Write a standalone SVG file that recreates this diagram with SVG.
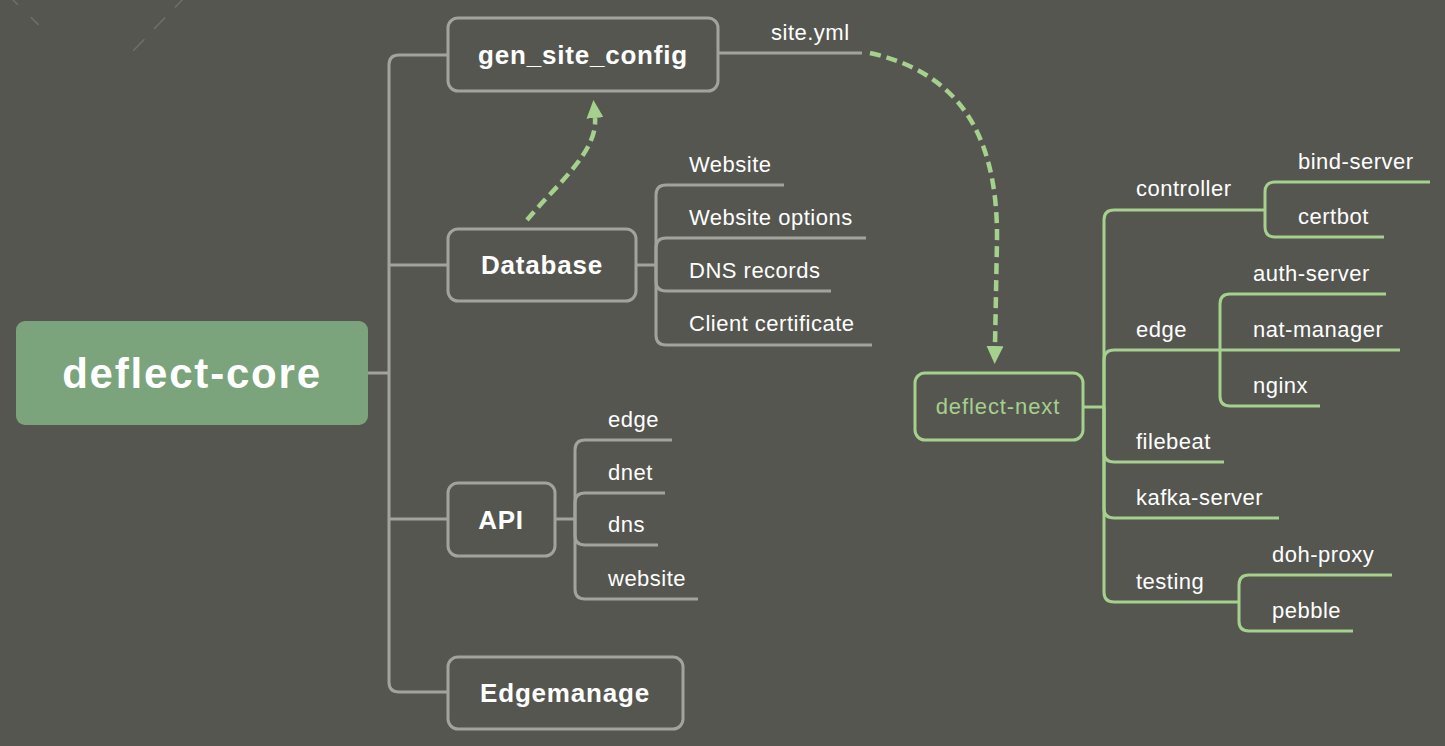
<svg xmlns="http://www.w3.org/2000/svg" width="1445" height="746" viewBox="0 0 1445 746">
<style>
.bg{fill:#555650}
.box{fill:none;stroke:#a3a39e;stroke-width:3}
.gbox{fill:none;stroke:#a5d08d;stroke-width:3}
.ln{fill:none;stroke:#a3a39e;stroke-width:3}
.gl{fill:none;stroke:#a5d08d;stroke-width:3}
.dash{fill:none;stroke:#a5d08d;stroke-width:4.5;stroke-dasharray:11 6}
.faint{fill:none;stroke:#6f706b;stroke-width:1.5}
.t{font-family:"Liberation Sans",Arial,sans-serif;font-size:22px;fill:#ffffff;letter-spacing:0.5px}
.bt{font-family:"Liberation Sans",Arial,sans-serif;font-size:26px;font-weight:bold;fill:#ffffff;letter-spacing:0.8px;text-anchor:middle}
</style>
<defs>
<marker id="ah" viewBox="0 0 18 17" refX="0" refY="8.5" markerWidth="18" markerHeight="17" markerUnits="userSpaceOnUse" orient="auto">
<path d="M0,0 L18,8.5 L0,17 z" fill="#a5d08d"/>
</marker>
</defs>
<rect class="bg" x="0" y="0" width="1445" height="746"/>
<line class="faint" x1="10" y1="-3" x2="46" y2="32" stroke-dasharray="11 18"/>
<line class="faint" x1="186" y1="-4" x2="130" y2="54" stroke-dasharray="16 14"/>

<g id="connectors">
<path class="ln" d="M368,373 H389"/>
<path class="ln" d="M448,55 H399 Q389,55 389,65 V682 Q389,692 399,692 H448"/>
<path class="ln" d="M389,265 H448"/>
<path class="ln" d="M389,519 H448"/>
<path class="ln" d="M718,53 H862"/>
<path class="ln" d="M636,265 H656"/>
<path class="ln" d="M784,185 H666 Q656,185 656,195 V335 Q656,345 666,345 H872"/>
<path class="ln" d="M656,265 V248 Q656,238 666,238 H866"/>
<path class="ln" d="M656,265 V281 Q656,291 666,291 H831"/>
<path class="ln" d="M555,519 H575"/>
<path class="ln" d="M672,440 H585 Q575,440 575,450 V589 Q575,599 585,599 H698"/>
<path class="ln" d="M575,519 V503 Q575,493 585,493 H665"/>
<path class="ln" d="M575,519 V535 Q575,545 585,545 H658"/>
<path class="gl" d="M1083,407 H1104"/>
<path class="gl" d="M1265,210 H1114 Q1104,210 1104,220 V592 Q1104,602 1114,602 H1239"/>
<path class="gl" d="M1104,407 V360 Q1104,350 1114,350 H1400"/>
<path class="gl" d="M1104,407 V452 Q1104,462 1114,462 H1224"/>
<path class="gl" d="M1104,407 V508 Q1104,518 1114,518 H1279"/>
<path class="gl" d="M1430,182 H1275 Q1265,182 1265,192 V227 Q1265,237 1275,237 H1384"/>
<path class="gl" d="M1386,294 H1230 Q1220,294 1220,304 V396 Q1220,406 1230,406 H1320"/>
<path class="gl" d="M1392,575 H1249 Q1239,575 1239,585 V621 Q1239,631 1249,631 H1353"/>
<path class="dash" d="M527,220 C555,186 598,152 595,118" marker-end="url(#ah)"/>
<path class="dash" d="M870,53 C955,72 998,130 997,240 L995,346" marker-end="url(#ah)"/>
<text class="t" x="771" y="40">site.yml</text>
</g>

<g id="deflect-core">
<rect x="16" y="321" width="352" height="104" rx="9" fill="#7ba47d"/>
<text x="192" y="388" font-family="'Liberation Sans',Arial,sans-serif" font-size="42" font-weight="bold" fill="#ffffff" text-anchor="middle" letter-spacing="1.8">deflect-core</text>
</g>
<g id="gen_site_config">
<rect class="box" x="448" y="18" width="270" height="73" rx="10"/>
<text class="bt" x="583" y="64">gen_site_config</text>
</g>
<g id="database">
<rect class="box" x="448" y="229" width="188" height="72" rx="10"/>
<text class="bt" x="542" y="274">Database</text>
</g>
<g id="api">
<rect class="box" x="448" y="483" width="107" height="73" rx="10"/>
<text class="bt" x="501" y="529">API</text>
</g>
<g id="edgemanage">
<rect class="box" x="448" y="657" width="235" height="72" rx="10"/>
<text class="bt" x="565" y="702">Edgemanage</text>
</g>
<g id="db-children">
<text class="t" x="689" y="172">Website</text>
<text class="t" x="689" y="225">Website options</text>
<text class="t" x="689" y="278">DNS records</text>
<text class="t" x="689" y="331">Client certificate</text>
</g>
<g id="api-children">
<text class="t" x="608" y="427">edge</text>
<text class="t" x="608" y="480">dnet</text>
<text class="t" x="608" y="532">dns</text>
<text class="t" x="608" y="586">website</text>
</g>
<g id="deflect-next">
<rect class="gbox" x="915" y="373" width="168" height="67" rx="10"/>
<text x="998" y="414" font-family="'Liberation Sans',Arial,sans-serif" font-size="22" fill="#a5d08d" text-anchor="middle" letter-spacing="0.9">deflect-next</text>
</g>
<g id="next-children">
<text class="t" x="1136" y="196">controller</text>
<text class="t" x="1136" y="337">edge</text>
<text class="t" x="1136" y="449">filebeat</text>
<text class="t" x="1136" y="505">kafka-server</text>
<text class="t" x="1136" y="589">testing</text>
<text class="t" x="1298" y="169">bind-server</text>
<text class="t" x="1298" y="224">certbot</text>
<text class="t" x="1253" y="281">auth-server</text>
<text class="t" x="1253" y="337">nat-manager</text>
<text class="t" x="1253" y="393">nginx</text>
<text class="t" x="1272" y="562">doh-proxy</text>
<text class="t" x="1272" y="618">pebble</text>
</g>
</svg>
